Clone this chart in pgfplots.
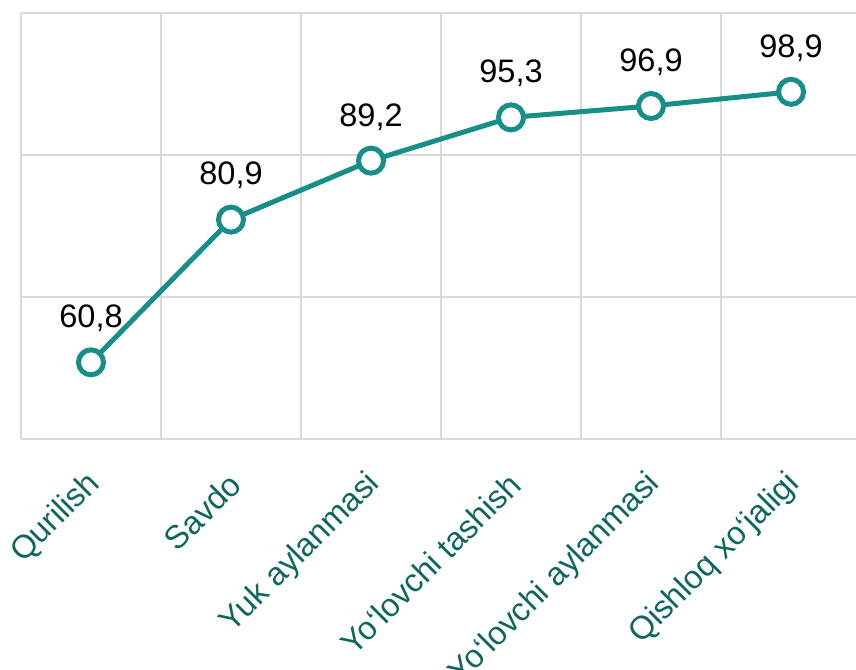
\documentclass[border=0pt]{standalone}
\usepackage{fontspec}
\setmainfont{Liberation Sans}
\usepackage{pgfplots}
\pgfplotsset{compat=1.18}
\definecolor{lineteal}{RGB}{24,142,137}
\definecolor{labteal}{RGB}{14,102,96}
\definecolor{gridgray}{RGB}{217,217,217}
\begin{document}
\begin{tikzpicture}
\begin{axis}[
 at={(0,0)}, anchor=south west,
 scale only axis, width=835pt, height=426pt,
 xmin=-0.5, xmax=5.464, ymin=50, ymax=110,
 ytick={50,70,90,110}, yticklabels={},
 ymajorgrids,
 xtick={0,1,2,3,4,5},
 xticklabels={Qurilish,Savdo,Yuk aylanmasi,Yo‘lovchi tashish,Yo‘lovchi aylanmasi,Qishloq xo‘jaligi},
 minor xtick={-0.5,0.5,1.5,2.5,3.5,4.5},
 xminorgrids,
 grid style={gridgray, line width=1.5pt},
 minor grid style={gridgray, line width=1.5pt},
 axis line style={draw=none},
 major tick length=0pt, minor tick length=0pt,
 tick style={draw=none},
 xticklabel style={xshift=4pt, yshift=-40pt, rotate=45, anchor=east, inner sep=0pt, font=\fontsize{32.5}{39}\selectfont, text=labteal},
 nodes near coords, point meta=explicit symbolic,
 every node near coord/.append style={anchor=south, inner sep=0pt, yshift=28pt, font=\fontsize{32.5}{39}\selectfont, text=black},
 clip=false,
]
\addplot[lineteal, line width=5pt, mark=*, mark size=12.5pt, mark options={fill=white, draw=lineteal, line width=5pt}] coordinates {
(0,60.8)[60,8]
(1,80.9)[80,9]
(2,89.2)[89,2]
(3,95.3)[95,3]
(4,96.9)[96,9]
(5,98.9)[98,9]
};
\end{axis}
\pgfresetboundingbox
\path (-21pt,-230pt) rectangle (835pt,439pt);
\end{tikzpicture}
\end{document}
